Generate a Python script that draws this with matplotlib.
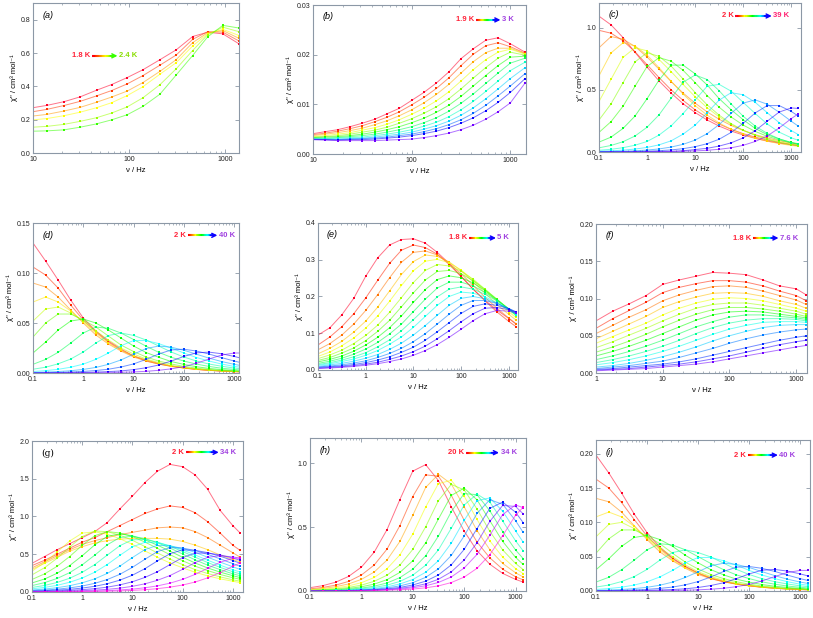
# Numerics
import numpy as np
# Data Visualization
import matplotlib
matplotlib.use('Agg')
import matplotlib.pyplot as plt
from matplotlib.ticker import LogLocator, NullFormatter, FuncFormatter, FormatStrFormatter

plt.rcParams['font.family'] = ['Liberation Sans', 'DejaVu Sans']

# ---------------------------------------------------------------------------
# Data (frequencies in Hz, chi in cm3/mol)
# ---------------------------------------------------------------------------

# frequency grid shared by panels c, d, e, g, h, i
wide_freq = [0.1, 0.178, 0.316, 0.562, 1.0, 1.78, 3.16, 5.62, 10, 17.8, 31.6,
             56.2, 100, 178, 316, 562, 1000, 1410]

# (a) 1.8 K -> 2.4 K, first point is the fit line only
a_freq = [10, 14, 21, 31, 46, 66, 96, 140, 210, 310, 460, 660, 950, 1400]
a_chi = [
    [0.272, 0.286, 0.308, 0.337, 0.377, 0.411, 0.453, 0.500, 0.560, 0.619, 0.699, 0.725, 0.715, 0.655],
    [0.248, 0.262, 0.285, 0.310, 0.343, 0.375, 0.415, 0.465, 0.527, 0.588, 0.682, 0.728, 0.725, 0.672],
    [0.222, 0.232, 0.252, 0.274, 0.305, 0.336, 0.372, 0.423, 0.490, 0.560, 0.662, 0.722, 0.735, 0.688],
    [0.199, 0.207, 0.224, 0.245, 0.272, 0.302, 0.345, 0.398, 0.473, 0.542, 0.642, 0.716, 0.742, 0.705],
    [0.155, 0.160, 0.172, 0.190, 0.212, 0.240, 0.277, 0.332, 0.410, 0.505, 0.615, 0.710, 0.755, 0.728],
    [0.131, 0.133, 0.139, 0.155, 0.175, 0.199, 0.230, 0.280, 0.353, 0.468, 0.585, 0.697, 0.766, 0.750],
]

# (b) 1.9 K -> 3 K
b_freq = [10, 13.3, 17.8, 23.7, 31.6, 42.2, 56.2, 75, 100, 133, 178, 237, 316,
          422, 562, 750, 1000, 1410]
b_chi = [
    [0.0041, 0.0045, 0.0049, 0.0055, 0.0062, 0.0070, 0.0081, 0.0092, 0.0108, 0.0124, 0.0143, 0.0165, 0.0192, 0.0212, 0.0229, 0.0234, 0.0222, 0.0205],
    [0.0039, 0.0042, 0.0046, 0.0051, 0.0057, 0.0065, 0.0074, 0.0085, 0.0099, 0.0114, 0.0132, 0.0153, 0.0178, 0.0201, 0.0218, 0.0224, 0.0216, 0.0203],
    [0.0037, 0.0040, 0.0043, 0.0047, 0.0052, 0.0059, 0.0067, 0.0077, 0.0089, 0.0103, 0.0120, 0.0140, 0.0163, 0.0186, 0.0204, 0.0213, 0.0213, 0.0202],
    [0.0035, 0.0037, 0.0040, 0.0043, 0.0048, 0.0053, 0.0060, 0.0069, 0.0080, 0.0092, 0.0107, 0.0125, 0.0147, 0.0170, 0.0190, 0.0205, 0.0211, 0.0201],
    [0.0034, 0.0035, 0.0037, 0.0040, 0.0044, 0.0048, 0.0054, 0.0062, 0.0071, 0.0082, 0.0095, 0.0111, 0.0131, 0.0153, 0.0174, 0.0193, 0.0205, 0.0199],
    [0.0033, 0.0034, 0.0035, 0.0037, 0.0040, 0.0044, 0.0049, 0.0055, 0.0063, 0.0072, 0.0084, 0.0098, 0.0116, 0.0137, 0.0158, 0.0178, 0.0195, 0.0197],
    [0.0032, 0.0032, 0.0033, 0.0035, 0.0037, 0.0040, 0.0044, 0.0049, 0.0055, 0.0063, 0.0073, 0.0086, 0.0102, 0.0121, 0.0142, 0.0163, 0.0183, 0.0193],
    [0.0031, 0.0031, 0.0032, 0.0033, 0.0034, 0.0037, 0.0040, 0.0044, 0.0049, 0.0056, 0.0064, 0.0075, 0.0089, 0.0106, 0.0126, 0.0147, 0.0168, 0.0185],
    [0.0030, 0.0030, 0.0030, 0.0031, 0.0032, 0.0034, 0.0037, 0.0040, 0.0044, 0.0050, 0.0057, 0.0066, 0.0078, 0.0093, 0.0111, 0.0131, 0.0152, 0.0174],
    [0.0030, 0.0029, 0.0029, 0.0030, 0.0031, 0.0032, 0.0034, 0.0037, 0.0040, 0.0045, 0.0051, 0.0059, 0.0069, 0.0082, 0.0098, 0.0117, 0.0137, 0.0162],
    [0.0029, 0.0029, 0.0028, 0.0029, 0.0029, 0.0030, 0.0032, 0.0034, 0.0037, 0.0041, 0.0046, 0.0053, 0.0062, 0.0073, 0.0087, 0.0104, 0.0124, 0.0152],
    [0.0029, 0.0028, 0.0027, 0.0027, 0.0027, 0.0027, 0.0028, 0.0029, 0.0030, 0.0033, 0.0037, 0.0042, 0.0049, 0.0058, 0.0070, 0.0085, 0.0103, 0.0143],
]

# (c) 2 K -> 39 K
c_chi = [
    [1.094, 1.024, 0.922, 0.803, 0.684, 0.572, 0.475, 0.389, 0.318, 0.258, 0.209, 0.169, 0.137, 0.110, 0.088, 0.072, 0.058, 0.050],
    [0.980, 0.957, 0.896, 0.807, 0.703, 0.599, 0.501, 0.416, 0.340, 0.278, 0.225, 0.183, 0.148, 0.120, 0.096, 0.077, 0.063, 0.055],
    [0.840, 0.930, 0.909, 0.850, 0.765, 0.667, 0.568, 0.475, 0.394, 0.323, 0.264, 0.214, 0.174, 0.140, 0.113, 0.091, 0.073, 0.064],
    [0.614, 0.798, 0.880, 0.854, 0.781, 0.679, 0.570, 0.466, 0.374, 0.297, 0.234, 0.183, 0.143, 0.112, 0.087, 0.068, 0.053, 0.046],
    [0.407, 0.586, 0.762, 0.840, 0.815, 0.745, 0.648, 0.544, 0.445, 0.357, 0.283, 0.223, 0.175, 0.137, 0.107, 0.083, 0.065, 0.057],
    [0.258, 0.388, 0.558, 0.726, 0.800, 0.770, 0.693, 0.588, 0.479, 0.380, 0.297, 0.229, 0.175, 0.134, 0.102, 0.078, 0.059, 0.050],
    [0.158, 0.245, 0.369, 0.530, 0.689, 0.760, 0.732, 0.658, 0.559, 0.455, 0.361, 0.282, 0.217, 0.166, 0.127, 0.097, 0.074, 0.063],
    [0.080, 0.120, 0.190, 0.290, 0.430, 0.580, 0.700, 0.700, 0.630, 0.540, 0.430, 0.340, 0.260, 0.190, 0.140, 0.105, 0.078, 0.067],
    [0.034, 0.053, 0.083, 0.129, 0.200, 0.300, 0.433, 0.562, 0.620, 0.584, 0.494, 0.387, 0.288, 0.209, 0.150, 0.106, 0.075, 0.062],
    [0.014, 0.022, 0.035, 0.055, 0.085, 0.137, 0.210, 0.310, 0.420, 0.530, 0.545, 0.490, 0.400, 0.310, 0.226, 0.160, 0.115, 0.094],
    [0.006, 0.010, 0.015, 0.024, 0.037, 0.058, 0.090, 0.144, 0.216, 0.317, 0.418, 0.478, 0.461, 0.400, 0.317, 0.236, 0.173, 0.140],
    [0.003, 0.004, 0.006, 0.010, 0.016, 0.025, 0.040, 0.062, 0.096, 0.148, 0.221, 0.312, 0.394, 0.420, 0.385, 0.320, 0.248, 0.208],
    [0.001, 0.0015, 0.002, 0.003, 0.007, 0.011, 0.017, 0.027, 0.043, 0.067, 0.103, 0.158, 0.231, 0.315, 0.374, 0.374, 0.327, 0.289],
    [0.000, 0.001, 0.001, 0.002, 0.003, 0.004, 0.006, 0.010, 0.020, 0.030, 0.048, 0.074, 0.114, 0.172, 0.248, 0.322, 0.355, 0.351],
    [0.000, 0.000, 0.001, 0.001, 0.002, 0.003, 0.004, 0.006, 0.009, 0.014, 0.022, 0.034, 0.054, 0.085, 0.129, 0.194, 0.269, 0.308],
]

# (d) 2 K -> 40 K
d_chi = [
    [0.130, 0.112, 0.093, 0.073, 0.055, 0.042, 0.032, 0.024, 0.017, 0.013, 0.0095, 0.007, 0.0052, 0.0038, 0.0028, 0.002, 0.0015, 0.0012],
    [0.106, 0.098, 0.085, 0.068, 0.053, 0.041, 0.031, 0.023, 0.017, 0.012, 0.009, 0.0067, 0.005, 0.0036, 0.0027, 0.002, 0.0014, 0.0012],
    [0.090, 0.086, 0.076, 0.063, 0.050, 0.038, 0.029, 0.022, 0.016, 0.012, 0.009, 0.0067, 0.005, 0.0036, 0.0027, 0.002, 0.0014, 0.0012],
    [0.071, 0.076, 0.071, 0.062, 0.051, 0.040, 0.030, 0.023, 0.017, 0.013, 0.0096, 0.007, 0.0052, 0.0039, 0.0029, 0.0021, 0.0016, 0.0013],
    [0.052, 0.064, 0.066, 0.060, 0.052, 0.042, 0.033, 0.025, 0.019, 0.014, 0.0105, 0.0076, 0.0056, 0.0042, 0.003, 0.0023, 0.0017, 0.0014],
    [0.036, 0.050, 0.059, 0.059, 0.053, 0.046, 0.037, 0.028, 0.0215, 0.016, 0.012, 0.009, 0.0066, 0.0049, 0.0036, 0.0027, 0.002, 0.0017],
    [0.020, 0.031, 0.043, 0.052, 0.054, 0.050, 0.043, 0.035, 0.027, 0.0205, 0.0157, 0.0115, 0.0086, 0.0063, 0.0046, 0.0034, 0.0025, 0.002],
    [0.0087, 0.0136, 0.0207, 0.030, 0.040, 0.046, 0.0447, 0.040, 0.0335, 0.0268, 0.0207, 0.0157, 0.012, 0.0089, 0.0066, 0.0048, 0.0036, 0.003],
    [0.0038, 0.0058, 0.0092, 0.014, 0.021, 0.030, 0.0375, 0.040, 0.0376, 0.033, 0.027, 0.021, 0.016, 0.012, 0.009, 0.0068, 0.005, 0.0042],
    [0.0015, 0.0024, 0.0037, 0.0058, 0.0089, 0.0137, 0.020, 0.0273, 0.0325, 0.0325, 0.0294, 0.025, 0.020, 0.0155, 0.012, 0.009, 0.0066, 0.0056],
    [0.0006, 0.0009, 0.0015, 0.0023, 0.0036, 0.0056, 0.0087, 0.0131, 0.0188, 0.0245, 0.027, 0.0258, 0.0228, 0.0188, 0.0149, 0.0115, 0.0087, 0.0073],
    [0.0002, 0.0003, 0.0005, 0.001, 0.0016, 0.0025, 0.0038, 0.006, 0.0091, 0.0137, 0.019, 0.0231, 0.0238, 0.022, 0.019, 0.0154, 0.012, 0.0102],
    [0.0001, 0.0001, 0.0002, 0.0003, 0.0005, 0.0009, 0.0014, 0.0021, 0.0034, 0.0053, 0.008, 0.012, 0.0166, 0.0202, 0.0209, 0.0193, 0.0166, 0.0147],
    [0.0001, 0.0001, 0.0001, 0.0002, 0.0002, 0.0003, 0.0004, 0.0007, 0.0011, 0.0017, 0.0027, 0.0042, 0.0064, 0.0097, 0.014, 0.018, 0.020, 0.020],
]

# (e) 1.8 K -> 5 K
e_chi = [
    [0.095, 0.115, 0.150, 0.195, 0.255, 0.305, 0.340, 0.355, 0.357, 0.345, 0.320, 0.290, 0.255, 0.220, 0.190, 0.163, 0.140, 0.125],
    [0.068, 0.090, 0.118, 0.153, 0.196, 0.244, 0.290, 0.326, 0.340, 0.333, 0.315, 0.287, 0.254, 0.220, 0.188, 0.158, 0.132, 0.118],
    [0.055, 0.072, 0.095, 0.125, 0.162, 0.205, 0.251, 0.293, 0.320, 0.324, 0.313, 0.291, 0.262, 0.230, 0.198, 0.168, 0.141, 0.126],
    [0.044, 0.059, 0.078, 0.103, 0.133, 0.171, 0.215, 0.260, 0.295, 0.313, 0.309, 0.294, 0.270, 0.240, 0.209, 0.178, 0.151, 0.136],
    [0.037, 0.049, 0.066, 0.087, 0.114, 0.147, 0.187, 0.230, 0.270, 0.296, 0.301, 0.292, 0.272, 0.245, 0.216, 0.186, 0.158, 0.143],
    [0.031, 0.041, 0.054, 0.072, 0.094, 0.122, 0.157, 0.197, 0.238, 0.271, 0.287, 0.283, 0.269, 0.247, 0.220, 0.191, 0.164, 0.148],
    [0.026, 0.034, 0.046, 0.060, 0.080, 0.105, 0.135, 0.172, 0.210, 0.245, 0.268, 0.271, 0.262, 0.243, 0.219, 0.193, 0.165, 0.150],
    [0.022, 0.029, 0.038, 0.051, 0.068, 0.089, 0.115, 0.147, 0.184, 0.219, 0.246, 0.256, 0.251, 0.237, 0.216, 0.191, 0.166, 0.151],
    [0.018, 0.024, 0.032, 0.043, 0.057, 0.075, 0.098, 0.125, 0.159, 0.193, 0.223, 0.239, 0.239, 0.229, 0.211, 0.190, 0.166, 0.152],
    [0.015, 0.020, 0.027, 0.036, 0.047, 0.063, 0.082, 0.107, 0.137, 0.168, 0.199, 0.220, 0.226, 0.220, 0.206, 0.188, 0.165, 0.151],
    [0.013, 0.017, 0.023, 0.030, 0.040, 0.053, 0.070, 0.090, 0.116, 0.146, 0.176, 0.200, 0.212, 0.209, 0.199, 0.183, 0.163, 0.150],
    [0.010, 0.014, 0.018, 0.024, 0.032, 0.042, 0.056, 0.073, 0.095, 0.121, 0.149, 0.176, 0.195, 0.200, 0.194, 0.182, 0.166, 0.154],
    [0.008, 0.011, 0.014, 0.019, 0.025, 0.034, 0.045, 0.059, 0.077, 0.099, 0.125, 0.152, 0.176, 0.189, 0.189, 0.181, 0.167, 0.158],
    [0.007, 0.009, 0.011, 0.015, 0.020, 0.027, 0.036, 0.048, 0.062, 0.081, 0.104, 0.129, 0.154, 0.173, 0.180, 0.176, 0.167, 0.158],
    [0.005, 0.007, 0.009, 0.012, 0.016, 0.021, 0.029, 0.038, 0.050, 0.065, 0.085, 0.107, 0.131, 0.153, 0.168, 0.170, 0.164, 0.157],
    [0.004, 0.0055, 0.0073, 0.0097, 0.013, 0.017, 0.023, 0.030, 0.040, 0.053, 0.069, 0.089, 0.111, 0.134, 0.153, 0.162, 0.160, 0.156],
]

# (f) chi' 1.8 K -> 7.6 K
f_freq = [1, 1.78, 3.16, 5.62, 10, 17.8, 31.6, 56.2, 100, 178, 316, 562, 1000, 1410]
f_chi = [
    [0.070, 0.083, 0.093, 0.104, 0.119, 0.125, 0.130, 0.135, 0.134, 0.132, 0.125, 0.117, 0.113, 0.105],
    [0.060, 0.073, 0.084, 0.095, 0.108, 0.115, 0.120, 0.124, 0.124, 0.122, 0.117, 0.110, 0.104, 0.097],
    [0.053, 0.064, 0.075, 0.085, 0.097, 0.105, 0.111, 0.116, 0.117, 0.115, 0.110, 0.104, 0.098, 0.092],
    [0.046, 0.056, 0.066, 0.076, 0.088, 0.096, 0.102, 0.107, 0.108, 0.107, 0.103, 0.097, 0.092, 0.087],
    [0.040, 0.049, 0.058, 0.067, 0.078, 0.087, 0.094, 0.099, 0.101, 0.100, 0.097, 0.092, 0.087, 0.083],
    [0.034, 0.042, 0.051, 0.060, 0.070, 0.079, 0.087, 0.092, 0.094, 0.094, 0.091, 0.087, 0.083, 0.079],
    [0.028, 0.035, 0.043, 0.052, 0.062, 0.071, 0.079, 0.085, 0.088, 0.088, 0.086, 0.083, 0.079, 0.076],
    [0.023, 0.029, 0.036, 0.044, 0.053, 0.062, 0.071, 0.078, 0.082, 0.083, 0.082, 0.079, 0.076, 0.074],
    [0.018, 0.023, 0.029, 0.036, 0.044, 0.053, 0.062, 0.069, 0.075, 0.078, 0.078, 0.076, 0.074, 0.072],
    [0.014, 0.018, 0.023, 0.029, 0.036, 0.044, 0.053, 0.061, 0.067, 0.071, 0.073, 0.073, 0.072, 0.070],
    [0.011, 0.014, 0.018, 0.023, 0.029, 0.036, 0.044, 0.052, 0.059, 0.064, 0.068, 0.069, 0.069, 0.068],
    [0.008, 0.010, 0.013, 0.017, 0.022, 0.028, 0.035, 0.043, 0.050, 0.056, 0.061, 0.064, 0.065, 0.065],
    [0.006, 0.008, 0.010, 0.013, 0.016, 0.021, 0.027, 0.033, 0.040, 0.046, 0.051, 0.055, 0.058, 0.059],
    [0.005, 0.006, 0.008, 0.010, 0.012, 0.015, 0.019, 0.024, 0.029, 0.034, 0.039, 0.044, 0.048, 0.050],
    [0.004, 0.005, 0.006, 0.008, 0.010, 0.012, 0.015, 0.019, 0.023, 0.028, 0.033, 0.038, 0.042, 0.044],
    [0.003, 0.004, 0.005, 0.006, 0.008, 0.010, 0.012, 0.015, 0.019, 0.023, 0.027, 0.031, 0.035, 0.037],
]

# (g) 2 K -> 34 K
g_chi = [
    [0.380, 0.470, 0.560, 0.640, 0.720, 0.800, 0.920, 1.100, 1.270, 1.450, 1.600, 1.690, 1.660, 1.550, 1.360, 1.080, 0.880, 0.780],
    [0.350, 0.420, 0.500, 0.580, 0.660, 0.720, 0.800, 0.880, 0.960, 1.040, 1.100, 1.140, 1.120, 1.050, 0.930, 0.780, 0.620, 0.550],
    [0.320, 0.400, 0.480, 0.560, 0.630, 0.680, 0.720, 0.760, 0.790, 0.820, 0.850, 0.860, 0.850, 0.800, 0.720, 0.620, 0.520, 0.460],
    [0.300, 0.380, 0.460, 0.540, 0.600, 0.650, 0.680, 0.700, 0.710, 0.710, 0.710, 0.700, 0.670, 0.620, 0.560, 0.490, 0.430, 0.400],
    [0.277, 0.389, 0.528, 0.675, 0.780, 0.797, 0.766, 0.706, 0.630, 0.544, 0.460, 0.384, 0.320, 0.261, 0.213, 0.174, 0.142, 0.124],
    [0.227, 0.322, 0.447, 0.595, 0.734, 0.808, 0.799, 0.753, 0.685, 0.602, 0.517, 0.436, 0.362, 0.296, 0.245, 0.200, 0.161, 0.143],
    [0.166, 0.240, 0.340, 0.470, 0.618, 0.746, 0.800, 0.782, 0.734, 0.661, 0.578, 0.494, 0.414, 0.342, 0.283, 0.232, 0.189, 0.168],
    [0.120, 0.172, 0.248, 0.350, 0.480, 0.624, 0.737, 0.770, 0.745, 0.691, 0.620, 0.541, 0.460, 0.384, 0.318, 0.263, 0.216, 0.190],
    [0.085, 0.124, 0.179, 0.256, 0.360, 0.488, 0.625, 0.722, 0.737, 0.708, 0.653, 0.582, 0.503, 0.426, 0.355, 0.296, 0.241, 0.215],
    [0.060, 0.087, 0.126, 0.182, 0.260, 0.363, 0.489, 0.613, 0.692, 0.694, 0.661, 0.606, 0.536, 0.461, 0.390, 0.326, 0.268, 0.239],
    [0.042, 0.061, 0.088, 0.129, 0.185, 0.262, 0.364, 0.485, 0.598, 0.658, 0.651, 0.614, 0.558, 0.490, 0.421, 0.355, 0.295, 0.264],
    [0.027, 0.039, 0.057, 0.083, 0.121, 0.174, 0.246, 0.342, 0.456, 0.562, 0.618, 0.611, 0.577, 0.525, 0.461, 0.396, 0.334, 0.298],
    [0.018, 0.026, 0.037, 0.054, 0.079, 0.115, 0.165, 0.234, 0.326, 0.434, 0.535, 0.588, 0.582, 0.549, 0.499, 0.438, 0.376, 0.339],
    [0.011, 0.017, 0.025, 0.035, 0.052, 0.075, 0.109, 0.157, 0.222, 0.309, 0.412, 0.507, 0.558, 0.552, 0.521, 0.474, 0.416, 0.381],
    [0.007, 0.010, 0.015, 0.021, 0.031, 0.044, 0.064, 0.094, 0.135, 0.193, 0.269, 0.363, 0.456, 0.514, 0.516, 0.491, 0.450, 0.419],
    [0.003, 0.005, 0.007, 0.012, 0.017, 0.025, 0.035, 0.051, 0.075, 0.108, 0.155, 0.218, 0.300, 0.389, 0.459, 0.480, 0.465, 0.446],
    [0.001, 0.002, 0.003, 0.004, 0.009, 0.013, 0.018, 0.027, 0.038, 0.056, 0.081, 0.117, 0.167, 0.233, 0.314, 0.394, 0.445, 0.450],
    [0.001, 0.001, 0.002, 0.003, 0.0045, 0.0067, 0.010, 0.014, 0.021, 0.030, 0.044, 0.064, 0.092, 0.132, 0.187, 0.258, 0.340, 0.385],
]

# (h) 20 K -> 34 K
h_chi = [
    [0.026, 0.042, 0.069, 0.114, 0.187, 0.305, 0.482, 0.717, 0.940, 0.991, 0.866, 0.660, 0.470, 0.316, 0.210, 0.138, 0.091, 0.070],
    [0.017, 0.028, 0.046, 0.075, 0.125, 0.204, 0.329, 0.513, 0.741, 0.911, 0.900, 0.750, 0.555, 0.384, 0.260, 0.171, 0.112, 0.087],
    [0.012, 0.020, 0.034, 0.055, 0.091, 0.149, 0.243, 0.389, 0.593, 0.812, 0.915, 0.839, 0.661, 0.474, 0.324, 0.216, 0.143, 0.110],
    [0.009, 0.014, 0.024, 0.040, 0.065, 0.106, 0.175, 0.283, 0.446, 0.658, 0.842, 0.868, 0.744, 0.561, 0.393, 0.266, 0.176, 0.137],
    [0.006, 0.010, 0.017, 0.028, 0.046, 0.076, 0.124, 0.203, 0.326, 0.503, 0.709, 0.836, 0.793, 0.643, 0.468, 0.322, 0.216, 0.168],
    [0.004, 0.007, 0.012, 0.020, 0.033, 0.054, 0.089, 0.146, 0.237, 0.377, 0.565, 0.749, 0.807, 0.715, 0.551, 0.389, 0.264, 0.208],
    [0.003, 0.005, 0.008, 0.014, 0.023, 0.038, 0.063, 0.105, 0.171, 0.276, 0.431, 0.622, 0.764, 0.755, 0.629, 0.466, 0.322, 0.254],
    [0.002, 0.003, 0.005, 0.009, 0.017, 0.028, 0.046, 0.075, 0.124, 0.202, 0.323, 0.492, 0.674, 0.760, 0.697, 0.549, 0.394, 0.314],
    [0.001, 0.002, 0.004, 0.006, 0.012, 0.020, 0.033, 0.055, 0.090, 0.147, 0.238, 0.375, 0.554, 0.708, 0.730, 0.626, 0.472, 0.383],
    [0.001, 0.001, 0.003, 0.004, 0.009, 0.014, 0.024, 0.040, 0.065, 0.107, 0.174, 0.279, 0.431, 0.608, 0.716, 0.680, 0.552, 0.459],
    [0.001, 0.001, 0.002, 0.003, 0.006, 0.010, 0.017, 0.028, 0.047, 0.077, 0.126, 0.205, 0.326, 0.489, 0.648, 0.697, 0.618, 0.536],
    [0.000, 0.001, 0.001, 0.002, 0.004, 0.007, 0.012, 0.021, 0.034, 0.056, 0.092, 0.150, 0.243, 0.378, 0.546, 0.671, 0.663, 0.605],
    [0.000, 0.000, 0.001, 0.001, 0.003, 0.005, 0.009, 0.015, 0.025, 0.041, 0.067, 0.110, 0.180, 0.287, 0.437, 0.599, 0.675, 0.653],
    [0.000, 0.000, 0.000, 0.001, 0.002, 0.003, 0.006, 0.009, 0.015, 0.025, 0.040, 0.066, 0.109, 0.178, 0.285, 0.434, 0.594, 0.657],
]

# (i) 2 K -> 40 K
i_chi = [
    [0.198, 0.172, 0.143, 0.112, 0.085, 0.064, 0.048, 0.036, 0.026, 0.019, 0.014, 0.0105, 0.0078, 0.0057, 0.0042, 0.003, 0.0023, 0.0018],
    [0.163, 0.150, 0.129, 0.104, 0.080, 0.062, 0.047, 0.035, 0.026, 0.018, 0.0135, 0.010, 0.0075, 0.0054, 0.004, 0.003, 0.0021, 0.0018],
    [0.135, 0.130, 0.115, 0.095, 0.075, 0.057, 0.044, 0.033, 0.024, 0.018, 0.0135, 0.010, 0.0075, 0.0054, 0.004, 0.003, 0.0021, 0.0018],
    [0.108, 0.115, 0.108, 0.094, 0.077, 0.060, 0.045, 0.034, 0.026, 0.0195, 0.0144, 0.0105, 0.0078, 0.0058, 0.0043, 0.0031, 0.0024, 0.002],
    [0.079, 0.097, 0.100, 0.091, 0.078, 0.063, 0.050, 0.038, 0.028, 0.021, 0.0157, 0.0114, 0.0084, 0.0063, 0.0045, 0.0034, 0.0025, 0.0021],
    [0.055, 0.076, 0.089, 0.089, 0.080, 0.069, 0.055, 0.042, 0.032, 0.024, 0.018, 0.0135, 0.0099, 0.0073, 0.0054, 0.004, 0.003, 0.0025],
    [0.031, 0.047, 0.065, 0.078, 0.081, 0.075, 0.065, 0.052, 0.041, 0.031, 0.0235, 0.0172, 0.0129, 0.0094, 0.0069, 0.0051, 0.0038, 0.003],
    [0.013, 0.020, 0.031, 0.045, 0.060, 0.069, 0.067, 0.060, 0.050, 0.040, 0.031, 0.0235, 0.018, 0.0133, 0.0099, 0.0072, 0.0054, 0.0045],
    [0.0057, 0.0087, 0.0138, 0.021, 0.0315, 0.045, 0.056, 0.060, 0.056, 0.0495, 0.0405, 0.0315, 0.024, 0.018, 0.0135, 0.0102, 0.0075, 0.0063],
    [0.0023, 0.0036, 0.0055, 0.0087, 0.0134, 0.0205, 0.030, 0.041, 0.0488, 0.0488, 0.044, 0.0375, 0.030, 0.0233, 0.018, 0.0135, 0.0099, 0.0084],
    [0.0009, 0.0014, 0.0022, 0.0035, 0.0054, 0.0084, 0.013, 0.0197, 0.028, 0.0368, 0.0405, 0.0387, 0.0342, 0.0282, 0.0224, 0.0172, 0.013, 0.011],
    [0.0003, 0.0005, 0.0008, 0.0015, 0.0024, 0.0038, 0.0057, 0.009, 0.0137, 0.0205, 0.0285, 0.0347, 0.0357, 0.033, 0.0285, 0.0231, 0.018, 0.0153],
    [0.0001, 0.0002, 0.0003, 0.0005, 0.0008, 0.0014, 0.0021, 0.0032, 0.0051, 0.008, 0.012, 0.018, 0.0249, 0.0303, 0.0314, 0.029, 0.0249, 0.022],
    [0.0001, 0.0001, 0.0002, 0.0003, 0.0003, 0.0005, 0.0006, 0.001, 0.0017, 0.0026, 0.004, 0.0063, 0.0096, 0.0146, 0.021, 0.027, 0.030, 0.030],
]

# temperature range labels per panel
t_start = ['1.8 K', '1.9 K', '2 K', '2 K', '1.8 K', '1.8 K', '2 K', '20 K', '2 K']
t_end = ['2.4 K', '3 K', '39 K', '40 K', '5 K', '7.6 K', '34 K', '34 K', '40 K']

# ---------------------------------------------------------------------------
# Helpers
# ---------------------------------------------------------------------------
SPINE = '#8c98a6'
START_RED = '#ff2238'


def draw_family(ax, freq, curves, stop, mark_from=0):
    # one colour per temperature, red first
    colors = plt.cm.gist_rainbow(np.linspace(0, stop, len(curves)))
    for chi, col in zip(curves, colors):
        ax.plot(freq, chi, '-', color=col, lw=0.7, alpha=0.55)
        ax.plot(freq[mark_from:], chi[mark_from:], 's', color=col, ms=1.9, mew=0)


def style_axes(ax, xlim, ylim, yticks, yfmt, ylabel, tag, serif_tag=False):
    ax.set_xscale('log')
    ax.set_xlim(*xlim)
    ax.set_ylim(*ylim)
    ax.xaxis.set_major_locator(LogLocator(base=10))
    ax.xaxis.set_minor_locator(LogLocator(base=10, subs=np.arange(2, 10)))
    ax.xaxis.set_major_formatter(FuncFormatter(lambda v, p: f'{v:g}'))
    ax.xaxis.set_minor_formatter(NullFormatter())
    ax.set_yticks(yticks)
    ax.yaxis.set_major_formatter(FormatStrFormatter(yfmt))
    ax.tick_params(which='both', direction='in', top=True, right=True,
                   color=SPINE, labelsize=5, labelcolor='#222222', pad=2)
    ax.tick_params(which='major', length=3, width=0.6)
    ax.tick_params(which='minor', length=1.6, width=0.5)
    for sp in ax.spines.values():
        sp.set_color(SPINE)
        sp.set_linewidth(0.8)
    ax.set_xlabel('ν / Hz', fontsize=5.5, labelpad=3)
    ax.set_ylabel(ylabel, fontsize=5.5, labelpad=2)
    if serif_tag:
        ax.text(0.045, 0.92, tag, transform=ax.transAxes, fontsize=6.5,
                family='DejaVu Serif', va='center')
    else:
        ax.text(0.045, 0.92, tag, transform=ax.transAxes, fontsize=6.5,
                style='italic', va='center')


def gradient_arrow(ax, x0, x1, y, stop, start_txt, end_txt, end_color):
    n = 30
    xs = np.linspace(x0, x1, n + 1)
    cols = plt.cm.gist_rainbow(np.linspace(0, stop, n))
    for k in range(n):
        ax.plot(xs[k:k + 2], [y, y], color=cols[k], lw=1.5,
                transform=ax.transAxes, solid_capstyle='butt')
    ax.annotate('', xy=(x1 + 0.015, y), xytext=(x1 - 0.02, y),
                xycoords='axes fraction',
                arrowprops=dict(arrowstyle='->', color=cols[-1], lw=1.1,
                                mutation_scale=7, shrinkA=0, shrinkB=0))
    ax.text(x0 - 0.008, y, start_txt, transform=ax.transAxes, ha='right',
            va='center', color=START_RED, fontsize=5.5, fontweight='bold')
    ax.text(x1 + 0.022, y, end_txt, transform=ax.transAxes, ha='left',
            va='center', color=end_color, fontsize=5.5, fontweight='bold')


# ---------------------------------------------------------------------------
# Figure
# ---------------------------------------------------------------------------
fig = plt.figure(figsize=(8.13, 6.18), dpi=100)

chi2 = "χ'' / cm³ mol⁻¹"
chi1 = "χ' / cm³ mol⁻¹"

ax_a = fig.add_axes([0.0406, 0.7524, 0.2534, 0.2427])
ax_b = fig.add_axes([0.3850, 0.7508, 0.2620, 0.2411])
ax_c = fig.add_axes([0.7368, 0.7540, 0.2485, 0.2411])
ax_d = fig.add_axes([0.0406, 0.3964, 0.2534, 0.2427])
ax_e = fig.add_axes([0.3911, 0.4013, 0.2460, 0.2379])
ax_f = fig.add_axes([0.7331, 0.3964, 0.2595, 0.2411])
ax_g = fig.add_axes([0.0394, 0.0421, 0.2595, 0.2443])
ax_h = fig.add_axes([0.3813, 0.0437, 0.2657, 0.2476])
ax_i = fig.add_axes([0.7331, 0.0437, 0.2632, 0.2443])

# (a)
draw_family(ax_a, a_freq, a_chi, 0.36, mark_from=1)
style_axes(ax_a, (10, 1400), (0, 0.9), [0, 0.2, 0.4, 0.6, 0.8], '%.1f', chi2, '(a)')
gradient_arrow(ax_a, 0.285, 0.395, 0.648, 0.36, t_start[0], t_end[0], '#88dd00')

# (b)
draw_family(ax_b, b_freq, b_chi, 0.85)
style_axes(ax_b, (10, 1440), (0, 0.03), [0, 0.01, 0.02, 0.03], '%.2f', chi2, '(b)')
gradient_arrow(ax_b, 0.765, 0.865, 0.90, 0.78, t_start[1], t_end[1], '#a040e0')

# (c)
draw_family(ax_c, wide_freq, c_chi, 0.85)
style_axes(ax_c, (0.1, 1600), (0, 1.2), [0, 0.5, 1.0], '%.1f', chi2, '(c)')
gradient_arrow(ax_c, 0.675, 0.84, 0.913, 0.78, t_start[2], t_end[2], '#ff2070')

# (d)
draw_family(ax_d, wide_freq, d_chi, 0.85)
style_axes(ax_d, (0.1, 1250), (0, 0.15), [0, 0.05, 0.10, 0.15], '%.2f', chi2, '(d)')
gradient_arrow(ax_d, 0.75, 0.88, 0.918, 0.78, t_start[3], t_end[3], '#a040e0')

# (e)
draw_family(ax_e, wide_freq, e_chi, 0.85)
style_axes(ax_e, (0.1, 1550), (0, 0.4), [0, 0.1, 0.2, 0.3, 0.4], '%.1f', chi2, '(e)')
gradient_arrow(ax_e, 0.755, 0.875, 0.898, 0.78, t_start[4], t_end[4], '#a040e0')

# (f)
draw_family(ax_f, f_freq, f_chi, 0.85)
style_axes(ax_f, (1, 1450), (0, 0.2), [0, 0.05, 0.10, 0.15, 0.20], '%.2f', chi1, '(f)')
gradient_arrow(ax_f, 0.742, 0.85, 0.906, 0.78, t_start[5], t_end[5], '#a040e0')

# (g)
draw_family(ax_g, wide_freq, g_chi, 0.98)
style_axes(ax_g, (0.1, 1600), (0, 2.0), [0, 0.5, 1.0, 1.5, 2.0], '%.1f', chi2, '(g)', serif_tag=True)
gradient_arrow(ax_g, 0.73, 0.87, 0.925, 0.78, t_start[6], t_end[6], '#a040e0')

# (h)
draw_family(ax_h, wide_freq, h_chi, 0.98)
style_axes(ax_h, (0.1, 1600), (0, 1.2), [0, 0.5, 1.0], '%.1f', chi2, '(h)')
gradient_arrow(ax_h, 0.722, 0.86, 0.904, 0.78, t_start[7], t_end[7], '#a040e0')

# (i)
draw_family(ax_i, wide_freq, i_chi, 0.85)
style_axes(ax_i, (0.1, 1550), (0, 0.22), [0, 0.05, 0.10, 0.15, 0.20], '%.2f', chi2, '(i)')
gradient_arrow(ax_i, 0.708, 0.835, 0.90, 0.78, t_start[8], t_end[8], '#a040e0')

fig.savefig('out.png', dpi=100)
